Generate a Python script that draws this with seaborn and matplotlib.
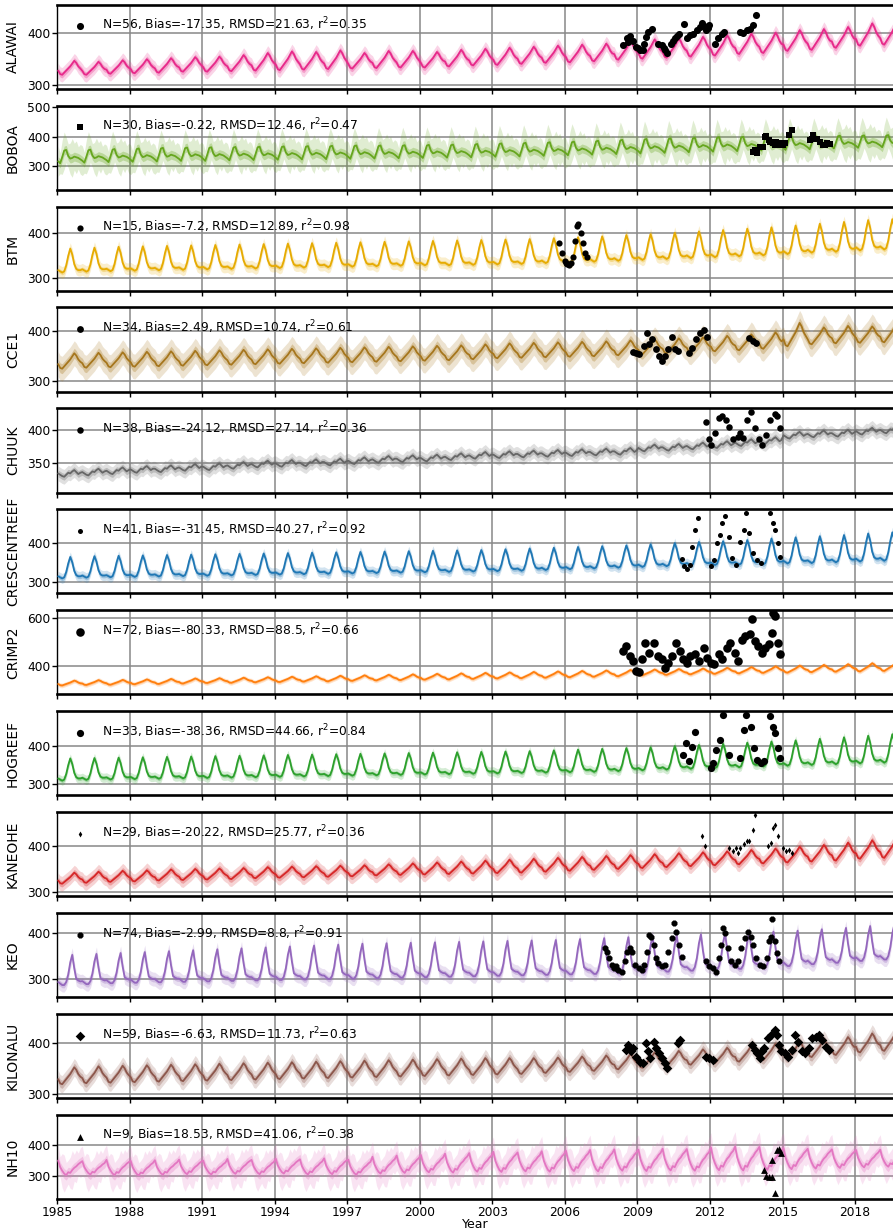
import numpy as np
import matplotlib
matplotlib.use("Agg")
import matplotlib.pyplot as plt
import seaborn as sns

# ---------------- data ----------------
STATIONS = ["ALAWAI", "BOBOA", "BTM", "CCE1", "CHUUK", "CRESCENTREEF",
            "CRIMP2", "HOGREEF", "KANEOHE", "KEO", "KILONALU", "NH10"]
YEARS = list(range(1985, 2020))

LEGEND_TEXT = [
    "N=56, Bias=-17.35, RMSD=21.63, r$^2$=0.35",
    "N=30, Bias=-0.22, RMSD=12.46, r$^2$=0.47",
    "N=15, Bias=-7.2, RMSD=12.89, r$^2$=0.98",
    "N=34, Bias=2.49, RMSD=10.74, r$^2$=0.61",
    "N=38, Bias=-24.12, RMSD=27.14, r$^2$=0.36",
    "N=41, Bias=-31.45, RMSD=40.27, r$^2$=0.92",
    "N=72, Bias=-80.33, RMSD=88.5, r$^2$=0.66",
    "N=33, Bias=-38.36, RMSD=44.66, r$^2$=0.84",
    "N=29, Bias=-20.22, RMSD=25.77, r$^2$=0.36",
    "N=74, Bias=-2.99, RMSD=8.8, r$^2$=0.91",
    "N=59, Bias=-6.63, RMSD=11.73, r$^2$=0.63",
    "N=9, Bias=18.53, RMSD=41.06, r$^2$=0.38",
]

# monthly climatological shapes (0 = trough, 1 = peak)
SHAPE_HAWAII = [0.30, 0.05, 0.00, 0.15, 0.30, 0.45, 0.60, 0.80, 1.00, 0.85, 0.60, 0.45]
SHAPE_SPIKE = [0.10, 0.05, 0.00, 0.05, 0.30, 0.70, 1.00, 0.75, 0.35, 0.15, 0.10, 0.10]
SHAPE_KEO = [0.10, 0.05, 0.00, 0.00, 0.10, 0.35, 0.75, 1.00, 0.55, 0.20, 0.15, 0.12]
SHAPE_BOBOA = [0.15, 0.00, 0.45, 0.95, 1.00, 0.55, 0.35, 0.40, 0.50, 0.45, 0.40, 0.30]
SHAPE_CHUUK = [0.50, 0.30, 0.10, 0.00, 0.30, 0.60, 0.50, 0.80, 1.00, 0.70, 0.40, 0.60]
SHAPE_NH10 = [1.00, 0.55, 0.30, 0.10, 0.00, 0.20, 0.15, 0.35, 0.50, 0.60, 0.75, 0.85]

# yearly model troughs / peaks (1985 ... 2019)
ALAWAI_TROUGH = [320, 320, 322, 323, 324, 326, 326, 327, 328, 329, 330, 331, 332, 333, 334, 334, 336, 338, 339, 341,
                 343, 344, 346, 349, 351, 353, 355, 357, 360, 362, 366, 368, 372, 376, 378]
ALAWAI_PEAK = [347, 345, 348, 350, 352, 354, 355, 358, 362, 365, 364, 367, 362, 366, 366, 364, 368, 370, 372, 374,
               376, 378, 380, 385, 388, 390, 393, 396, 399, 401, 406, 408, 412, 419, 420]
BOBOA_TROUGH = [310, 312, 314, 315, 316, 318, 318, 320, 321, 322, 323, 324, 325, 326, 327, 328, 329, 330, 332, 333,
                335, 337, 339, 341, 343, 345, 347, 349, 351, 353, 355, 357, 360, 362, 364]
BOBOA_PEAK = [355, 356, 358, 360, 362, 363, 364, 365, 366, 367, 368, 369, 370, 370, 371, 372, 373, 375, 377, 379,
              381, 383, 386, 389, 392, 394, 396, 398, 399, 400, 401, 402, 403, 404, 405]
BTM_TROUGH = [312, 314, 315, 316, 317, 318, 319, 320, 321, 322, 323, 324, 325, 326, 327, 328, 328, 329, 330, 331,
              333, 334, 336, 338, 340, 342, 344, 346, 348, 350, 353, 356, 358, 361, 363]
BTM_PEAK = [365, 367, 369, 370, 371, 372, 373, 374, 375, 376, 377, 378, 379, 380, 381, 382, 383, 384, 385, 386,
            388, 390, 392, 395, 397, 400, 403, 406, 409, 412, 416, 420, 424, 428, 430]
CCE1_TROUGH = [325, 327, 328, 329, 330, 331, 332, 333, 334, 335, 336, 337, 338, 339, 340, 341, 342, 344, 346, 347,
               348, 349, 350, 352, 354, 356, 358, 360, 362, 365, 370, 374, 376, 377, 378]
CCE1_PEAK = [356, 357, 358, 359, 360, 361, 362, 363, 364, 365, 366, 367, 368, 369, 370, 371, 372, 374, 376, 377,
             378, 379, 380, 382, 384, 386, 388, 391, 394, 398, 417, 408, 411, 410, 415]
CHUUK_TROUGH = [330, 332, 334, 336, 337, 339, 340, 342, 344, 345, 346, 347, 349, 351, 352, 353, 355, 357, 358, 359,
                360, 361, 362, 363, 368, 369, 371, 373, 376, 379, 387, 389, 390, 393, 395]
CHUUK_PEAK = [340, 342, 344, 346, 347, 349, 350, 352, 354, 355, 356, 357, 359, 361, 362, 363, 365, 367, 368, 369,
              370, 371, 372, 373, 378, 379, 381, 383, 386, 389, 397, 399, 400, 403, 405]
CRESCENTREEF_TROUGH = [308, 310, 311, 312, 313, 314, 315, 316, 317, 318, 319, 320, 321, 322, 323, 324, 325, 326, 327,
                       328, 330, 332, 334, 336, 338, 340, 342, 343, 344, 345, 347, 348, 350, 352, 354]
CRESCENTREEF_PEAK = [364, 366, 367, 368, 369, 370, 371, 372, 373, 374, 375, 376, 377, 378, 379, 380, 381, 382, 384,
                     386, 388, 390, 392, 394, 397, 400, 403, 405, 408, 412, 415, 418, 421, 425, 428]
CRIMP2_TROUGH = [320, 322, 323, 325, 326, 328, 330, 331, 333, 334, 336, 337, 339, 341, 342, 344, 345, 347, 349, 350,
                 352, 354, 356, 358, 362, 364, 366, 368, 370, 372, 373, 375, 377, 378, 380]
CRIMP2_PEAK = [340, 342, 343, 345, 347, 349, 350, 352, 354, 356, 358, 360, 362, 364, 366, 368, 370, 372, 374, 376,
               378, 380, 382, 384, 386, 388, 390, 393, 396, 399, 402, 405, 408, 412, 415]
HOGREEF_TROUGH = [309, 311, 312, 313, 314, 315, 316, 317, 318, 319, 320, 321, 322, 323, 324, 325, 326, 327, 328, 329,
                  330, 331, 332, 334, 336, 338, 340, 342, 344, 346, 348, 350, 352, 354, 356]
HOGREEF_PEAK = [367, 368, 369, 370, 371, 372, 373, 374, 375, 376, 377, 378, 379, 380, 381, 382, 383, 384, 385, 386,
                388, 390, 392, 394, 396, 399, 402, 405, 408, 411, 414, 418, 422, 426, 430]
KANEOHE_TROUGH = [318, 320, 322, 323, 325, 326, 327, 328, 330, 331, 332, 333, 334, 336, 337, 338, 339, 340, 341, 342,
                  344, 346, 348, 350, 352, 354, 356, 358, 360, 362, 364, 366, 368, 372, 374]
KANEOHE_PEAK = [342, 344, 346, 347, 349, 350, 351, 352, 354, 355, 356, 357, 358, 360, 362, 364, 366, 368, 370, 372,
                374, 376, 378, 380, 382, 384, 386, 388, 391, 394, 398, 402, 407, 412, 416]
KEO_TROUGH = [287, 289, 291, 292, 293, 294, 295, 296, 297, 298, 299, 300, 301, 302, 303, 304, 305, 306, 307, 308,
              309, 310, 311, 312, 314, 316, 318, 320, 322, 325, 328, 332, 335, 339, 342]
KEO_PEAK = [352, 354, 356, 358, 360, 362, 364, 366, 368, 370, 372, 374, 376, 377, 378, 379, 380, 381, 382, 383,
            384, 386, 388, 390, 392, 394, 396, 398, 400, 402, 404, 407, 410, 414, 417]
KILONALU_TROUGH = [319, 321, 322, 323, 324, 325, 326, 327, 328, 329, 330, 331, 332, 333, 334, 335, 336, 337, 338, 339,
                   341, 343, 345, 348, 351, 354, 357, 360, 363, 366, 369, 372, 376, 381, 384]
KILONALU_PEAK = [352, 354, 355, 356, 357, 358, 359, 360, 361, 362, 363, 364, 365, 366, 367, 368, 369, 370, 370, 370,
                 371, 373, 375, 378, 381, 384, 387, 390, 394, 398, 402, 406, 411, 418, 422]
NH10_TROUGH = [303, 305, 303, 302, 304, 306, 305, 307, 306, 308, 305, 306, 304, 308, 310, 312, 311, 314, 313, 315,
               314, 316, 315, 317, 316, 318, 317, 319, 318, 320, 322, 324, 326, 328, 330]
NH10_PEAK = [350, 348, 352, 349, 351, 353, 350, 355, 352, 356, 354, 357, 353, 362, 366, 368, 372, 374, 378, 376,
             380, 382, 384, 386, 385, 388, 387, 392, 395, 394, 390, 388, 386, 384, 385]

# half widths of the inner / outer model bands
INNER_HALF = [6, 15, 5, 10, 5, 6, 5, 5, 7, 6, 8, 16]
OUTER_HALF = [14, 50, 13, 25, 11, 13, 10, 12, 16, 15, 17, 48]
OUTER_MONTH_FACTOR_IRREG = [1.0, 0.7, 1.15, 1.25, 0.85, 0.8, 1.05, 1.3, 0.9, 1.1, 0.75, 1.0]

# observations
ALAWAI_OBS_T = [2008.41, 2008.55, 2008.62, 2008.69, 2008.82, 2008.96, 2009.02, 2009.10, 2009.21, 2009.28, 2009.35,
                2009.44, 2009.62, 2009.86, 2010.00, 2010.08, 2010.13, 2010.23, 2010.37, 2010.46, 2010.55, 2010.64,
                2010.73, 2010.92, 2011.06, 2011.17, 2011.31, 2011.45, 2011.59, 2011.67, 2011.75, 2011.83, 2011.90,
                2011.97, 2012.21, 2012.34, 2012.48, 2012.58, 2013.24, 2013.38, 2013.52, 2013.66, 2013.79, 2013.90]
ALAWAI_OBS_V = [377, 390, 383, 394, 386, 374, 371, 367, 367, 380, 393, 403, 409, 380, 377, 372, 367, 362, 379, 385,
                390, 395, 398, 417, 390, 396, 399, 406, 412, 420, 414, 407, 411, 415, 380, 390, 399, 403, 403, 401,
                406, 409, 415, 435]
BOBOA_OBS_T = [2013.76, 2013.86, 2013.93, 2014.07, 2014.14, 2014.18, 2014.28, 2014.32, 2014.45, 2014.48, 2014.59,
               2014.69, 2014.73, 2014.87, 2014.90, 2015.00, 2015.10, 2015.28, 2015.38, 2016.14, 2016.21, 2016.28,
               2016.41, 2016.55, 2016.69, 2016.76, 2016.86, 2016.95]
BOBOA_OBS_V = [348, 354, 343, 365, 365, 365, 399, 401, 388, 382, 377, 371, 382, 377, 371, 371, 377, 404, 421, 388,
               393, 404, 393, 382, 373, 371, 377, 374]
BTM_OBS_T = [2005.75, 2005.89, 2005.99, 2006.04, 2006.08, 2006.18, 2006.25, 2006.32, 2006.42, 2006.51, 2006.56,
             2006.65, 2006.74, 2006.84, 2006.93]
BTM_OBS_V = [377, 355, 338, 334, 331, 329, 333, 347, 381, 416, 420, 399, 377, 356, 347]
CCE1_OBS_T = [2008.82, 2008.96, 2009.06, 2009.29, 2009.38, 2009.48, 2009.62, 2009.76, 2009.91, 2010.00, 2010.14,
              2010.28, 2010.42, 2010.57, 2010.66, 2011.13, 2011.27, 2011.41, 2011.60, 2011.75, 2011.89, 2013.63,
              2013.77, 2013.91]
CCE1_OBS_V = [358, 356, 354, 370, 397, 374, 385, 364, 350, 340, 350, 364, 389, 364, 360, 357, 367, 384, 397, 403,
              389, 387, 380, 377]
CHUUK_OBS_T = [2011.84, 2011.96, 2012.03, 2012.20, 2012.36, 2012.50, 2012.66, 2012.78, 2012.97, 2013.14, 2013.25,
               2013.37, 2013.54, 2013.68, 2013.85, 2014.01, 2014.15, 2014.32, 2014.48, 2014.67, 2014.79, 2014.90]
CHUUK_OBS_V = [411, 387, 378, 396, 418, 420, 415, 405, 386, 390, 396, 388, 415, 426, 403, 386, 378, 393, 415, 423,
               420, 403]
CRESCENTREEF_OBS_T = [2010.85, 2010.94, 2011.04, 2011.18, 2011.27, 2011.37, 2011.51, 2012.03, 2012.17, 2012.31,
                      2012.40, 2012.50, 2012.64, 2012.78, 2012.92, 2013.06, 2013.25, 2013.39, 2013.49, 2013.62,
                      2013.77, 2013.96, 2014.10, 2014.48, 2014.62, 2014.71, 2014.81, 2014.90]
CRESCENTREEF_OBS_V = [359, 340, 333, 344, 391, 434, 465, 340, 357, 400, 421, 452, 470, 417, 361, 344, 404, 434, 478,
                      426, 374, 357, 348, 478, 452, 434, 400, 364]
CRIMP2_OBS_T = [2008.42, 2008.54, 2008.68, 2008.82, 2008.96, 2009.05, 2009.20, 2009.33, 2009.48, 2009.67, 2009.83,
                2010.00, 2010.14, 2010.28, 2010.42, 2010.61, 2010.76, 2010.90, 2011.04, 2011.18, 2011.37, 2011.55,
                2011.75, 2011.89, 2012.03, 2012.17, 2012.36, 2012.50, 2012.69, 2012.83, 2013.02, 2013.16, 2013.31,
                2013.45, 2013.64, 2013.72, 2013.86, 2014.00, 2014.15, 2014.29, 2014.43, 2014.57, 2014.62, 2014.71,
                2014.81, 2014.90]
CRIMP2_OBS_V = [462, 483, 441, 421, 379, 375, 428, 497, 455, 497, 441, 428, 393, 414, 441, 497, 462, 428, 414, 441,
                448, 421, 476, 434, 414, 407, 448, 428, 476, 497, 455, 421, 510, 524, 531, 593, 503, 483, 455, 476,
                490, 538, 621, 607, 497, 448]
HOGREEF_OBS_T = [2010.90, 2011.01, 2011.13, 2011.25, 2011.37, 2012.03, 2012.12, 2012.26, 2012.41, 2012.54, 2012.78,
                 2013.25, 2013.39, 2013.49, 2013.68, 2013.82, 2013.96, 2014.10, 2014.24, 2014.48, 2014.62, 2014.71,
                 2014.81, 2014.90]
HOGREEF_OBS_V = [377, 407, 359, 398, 437, 342, 355, 390, 416, 481, 377, 368, 442, 481, 450, 394, 363, 355, 359, 477,
                 450, 433, 394, 368]
KANEOHE_OBS_T = [2011.65, 2011.79, 2012.78, 2012.97, 2013.06, 2013.14, 2013.25, 2013.39, 2013.54, 2013.62, 2013.77,
                 2013.85, 2014.39, 2014.52, 2014.62, 2014.71, 2014.81, 2015.00, 2015.14, 2015.28, 2015.38]
KANEOHE_OBS_V = [421, 399, 396, 388, 396, 385, 396, 403, 410, 410, 435, 467, 399, 406, 439, 446, 421, 396, 388, 392,
                 385]
KEO_OBS_T = [2007.64, 2007.74, 2007.83, 2007.93, 2008.02, 2008.11, 2008.21, 2008.35, 2008.49, 2008.58, 2008.68,
             2008.77, 2008.91, 2009.06, 2009.20, 2009.29, 2009.39, 2009.48, 2009.58, 2009.67, 2009.77, 2009.86,
             2010.00, 2010.14, 2010.28, 2010.42, 2010.52, 2010.61, 2010.71, 2010.85, 2011.84, 2011.98, 2012.12,
             2012.26, 2012.36, 2012.45, 2012.55, 2012.64, 2012.74, 2012.88, 2013.02, 2013.16, 2013.30, 2013.44,
             2013.58, 2013.68, 2013.77, 2013.91, 2014.06, 2014.20, 2014.34, 2014.43, 2014.53, 2014.58, 2014.67,
             2014.77, 2014.86]
KEO_OBS_V = [366, 359, 345, 331, 323, 327, 320, 316, 338, 359, 366, 359, 331, 323, 320, 331, 359, 395, 391, 374,
             345, 334, 327, 331, 359, 388, 420, 402, 374, 348, 338, 327, 323, 316, 345, 374, 409, 399, 366, 338,
             331, 338, 366, 388, 402, 391, 374, 345, 331, 327, 345, 381, 391, 429, 381, 356, 338]
KILONALU_OBS_T = [2008.54, 2008.63, 2008.73, 2008.82, 2008.96, 2009.10, 2009.25, 2009.34, 2009.44, 2009.53, 2009.67,
                  2009.77, 2009.91, 2010.00, 2010.14, 2010.24, 2010.66, 2010.76, 2011.84, 2011.98, 2012.12, 2013.72,
                  2013.87, 2013.96, 2014.06, 2014.15, 2014.25, 2014.39, 2014.53, 2014.67, 2014.77, 2014.86, 2014.95,
                  2015.09, 2015.24, 2015.38, 2015.52, 2015.66, 2015.80, 2015.94, 2016.09, 2016.23, 2016.37, 2016.51,
                  2016.65, 2016.79, 2016.93]
KILONALU_OBS_V = [386, 396, 383, 390, 373, 363, 360, 399, 383, 370, 401, 390, 379, 370, 360, 350, 399, 405, 373, 370,
                  367, 396, 386, 379, 370, 383, 390, 409, 415, 425, 415, 396, 383, 379, 373, 386, 415, 402, 383, 379,
                  390, 409, 412, 415, 405, 392, 386]
NH10_OBS_T = [2014.24, 2014.32, 2014.43, 2014.55, 2014.57, 2014.67, 2014.76, 2014.86, 2014.95]
NH10_OBS_V = [319, 300, 296, 296, 352, 244, 384, 386, 373]

# ---------------- per-panel settings ----------------
TROUGHS = [ALAWAI_TROUGH, BOBOA_TROUGH, BTM_TROUGH, CCE1_TROUGH, CHUUK_TROUGH, CRESCENTREEF_TROUGH,
           CRIMP2_TROUGH, HOGREEF_TROUGH, KANEOHE_TROUGH, KEO_TROUGH, KILONALU_TROUGH, NH10_TROUGH]
PEAKS = [ALAWAI_PEAK, BOBOA_PEAK, BTM_PEAK, CCE1_PEAK, CHUUK_PEAK, CRESCENTREEF_PEAK,
         CRIMP2_PEAK, HOGREEF_PEAK, KANEOHE_PEAK, KEO_PEAK, KILONALU_PEAK, NH10_PEAK]
SHAPES = [SHAPE_HAWAII, SHAPE_BOBOA, SHAPE_SPIKE, SHAPE_HAWAII, SHAPE_CHUUK, SHAPE_SPIKE,
          SHAPE_HAWAII, SHAPE_SPIKE, SHAPE_HAWAII, SHAPE_KEO, SHAPE_HAWAII, SHAPE_NH10]
OBS_T = [ALAWAI_OBS_T, BOBOA_OBS_T, BTM_OBS_T, CCE1_OBS_T, CHUUK_OBS_T, CRESCENTREEF_OBS_T,
         CRIMP2_OBS_T, HOGREEF_OBS_T, KANEOHE_OBS_T, KEO_OBS_T, KILONALU_OBS_T, NH10_OBS_T]
OBS_V = [ALAWAI_OBS_V, BOBOA_OBS_V, BTM_OBS_V, CCE1_OBS_V, CHUUK_OBS_V, CRESCENTREEF_OBS_V,
         CRIMP2_OBS_V, HOGREEF_OBS_V, KANEOHE_OBS_V, KEO_OBS_V, KILONALU_OBS_V, NH10_OBS_V]

dark2 = sns.color_palette("Dark2", 8)
tab10 = sns.color_palette("tab10", 10)
COLORS = [dark2[3], dark2[4], dark2[5], dark2[6], dark2[7]] + [tab10[i] for i in range(7)]
MARKERS = ["o", "s", "o", "o", "o", "o", "o", "o", "d", "8", "D", "^"]
MSIZE = [26, 22, 20, 24, 22, 13, 38, 27, 9, 22, 24, 24]
YLIMS = [(293, 455), (221, 504), (272, 458), (279, 448), (306.5, 432), (269, 488),
         (283, 631), (271, 490), (291, 473), (261, 442), (292, 456), (226, 497)]
YTICKS = [[300, 400], [300, 400, 500], [300, 400], [300, 400], [350, 400], [300, 400],
          [400, 600], [300, 400], [300, 400], [300, 400], [300, 400], [300, 400]]
IRREGULAR = [False, True, False, False, False, False, False, False, False, False, False, True]

# ---------------- plotting ----------------
sns.set_theme(style="ticks")
plt.rcParams["font.family"] = ["DejaVu Sans"]
plt.rcParams["text.color"] = "black"
plt.rcParams["axes.labelcolor"] = "black"
plt.rcParams["xtick.color"] = "black"
plt.rcParams["ytick.color"] = "black"

fig, axes = plt.subplots(12, 1, figsize=(8.93, 12.32), dpi=100, sharex=True)
fig.subplots_adjust(left=0.064, right=1.0, top=1 - 4.7 / 1232, bottom=1 - 1199 / 1232, hspace=0.2)

for k, ax in enumerate(axes):
    tr = TROUGHS[k]
    pk = PEAKS[k]
    shape = SHAPES[k]
    t, mid, wi, wo = [], [], [], []
    for i, yr in enumerate(YEARS):
        for m in range(12):
            t.append(yr + (m + 0.5) / 12.0)
            mid.append(tr[i] + (pk[i] - tr[i]) * shape[m])
            wi.append(INNER_HALF[k])
            fac = OUTER_MONTH_FACTOR_IRREG[m] if IRREGULAR[k] else 1.0
            wo.append(OUTER_HALF[k] * fac)
    t = np.array(t)
    mid = np.array(mid)
    wi = np.array(wi)
    wo = np.array(wo)
    c = COLORS[k]

    ax.fill_between(t, mid - wo, mid + wo, color=c, alpha=0.2, lw=0, zorder=2)
    ax.fill_between(t, mid - wi, mid + wi, color=c, alpha=0.3, lw=0, zorder=2)
    sns.lineplot(x=t, y=mid, ax=ax, color=c, lw=1.3, zorder=3, legend=False)
    sns.scatterplot(x=OBS_T[k], y=OBS_V[k], ax=ax, color="black", marker=MARKERS[k],
                    s=MSIZE[k], linewidth=0, zorder=4, label=LEGEND_TEXT[k])

    ax.set_xlim(1985, 2019.57)
    ax.set_ylim(*YLIMS[k])
    ax.set_yticks(YTICKS[k])
    ax.set_xticks(list(range(1985, 2019, 3)))
    ax.grid(True, color="#888888", lw=1.1)
    ax.set_axisbelow(True)
    ax.set_ylabel(STATIONS[k], fontsize=10, labelpad=5)
    ax.tick_params(axis="both", labelsize=8.8, length=3.5, width=1.0, color="black", pad=1.5)
    for side in ("top", "bottom"):
        ax.spines[side].set_linewidth(1.9)
        ax.spines[side].set_color("black")
    ax.spines["left"].set_linewidth(1.0)
    ax.spines["left"].set_color("black")
    ax.spines["right"].set_visible(False)
    ax.legend(loc="upper left", frameon=False, fontsize=8.8, handletextpad=0.8)

axes[-1].set_xlabel("Year", fontsize=9, labelpad=-1)

fig.savefig("out.png", dpi=100)
